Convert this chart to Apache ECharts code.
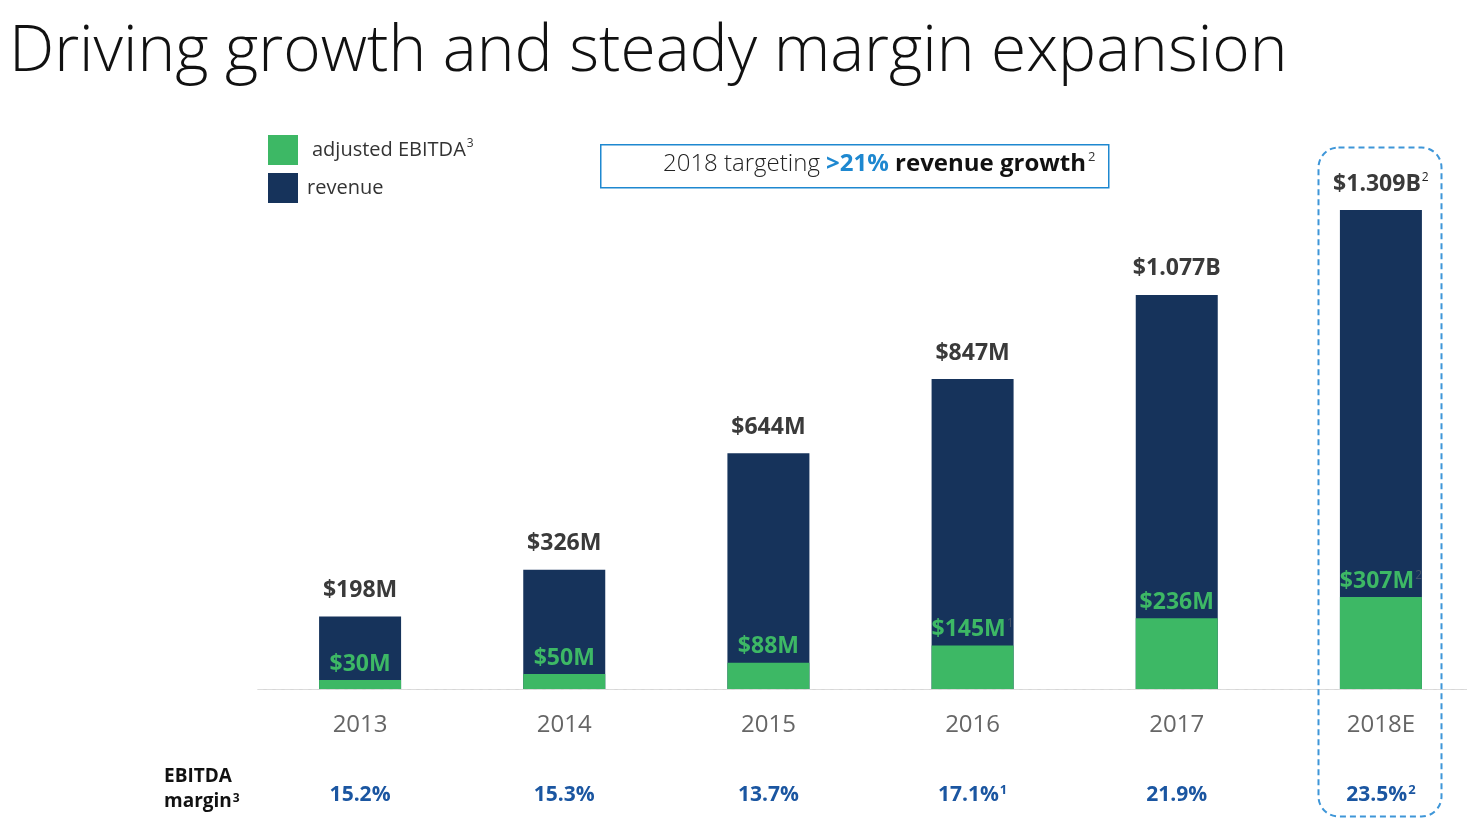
<!DOCTYPE html>
<html>
<head>
<meta charset="utf-8">
<script src="https://cdn.jsdelivr.net/npm/echarts@6/dist/echarts.min.js"></script>
<style>
html,body{margin:0;padding:0;background:#fff;}
#c{width:1467px;height:829px;}
</style>
</head>
<body>
<div id="c"></div>
<script>
// ---- data ----
const years = ['2013', '2014', '2015', '2016', '2017', '2018E'];
const revenue = [198, 326, 644, 847, 1077, 1309];        // $M
const ebitda = [30, 50, 88, 145, 236, 307];              // $M
const margin = ['15.2%', '15.3%', '13.7%', '17.1%', '21.9%', '23.5%'];
const revenueNotes = ['', '', '', '', '', '2'];
const ebitdaNotes = ['', '', '', '1', '', '2'];
const marginNotes = ['', '', '', '1', '', '2'];

const NAVY = '#16335B';
const GREEN = '#3DB865';
const FONT = '"Open Sans", "Noto Sans", sans-serif';

function money(v) {
  return v >= 1000 ? '$' + (v / 1000).toFixed(3) + 'B' : '$' + v + 'M';
}

const chart = echarts.init(document.getElementById('c'));
chart.setOption({
  backgroundColor: '#fff',
  textStyle: { fontFamily: FONT },
  title: {
    text: 'Driving growth and steady margin expansion',
    left: 4, top: 16,
    textStyle: { fontFamily: FONT, fontSize: 64, fontWeight: 300, color: '#111' }
  },
  legend: {
    orient: 'vertical',
    left: 263, top: 130,
    itemWidth: 30, itemHeight: 30, itemGap: 8,
    icon: 'rect',
    data: ['adjusted EBITDA', 'revenue'],
    formatter: function (name) {
      return name === 'adjusted EBITDA' ? '{a|adjusted EBITDA}{s|3}' : '{b|revenue}';
    },
    textStyle: {
      fontFamily: FONT, fontSize: 20, color: '#333',
      rich: {
        a: { fontSize: 20, color: '#333', padding: [0, 0, 0, 9], lineHeight: 28 },
        b: { fontSize: 20, color: '#333', padding: [0, 0, 0, 4], lineHeight: 28 },
        s: { fontSize: 12, color: '#333', padding: [0, 0, 12, 1], lineHeight: 28 }
      }
    }
  },
  grid: { left: 258, width: 1225, top: 210, bottom: 140, containLabel: false, outerBoundsMode: 'none' },
  xAxis: [
    {
      type: 'category', data: years,
      axisLine: { show: true, lineStyle: { color: '#d6d6d6', width: 1 } },
      axisTick: { show: false },
      axisLabel: { margin: 24, fontSize: 24, color: '#666', fontFamily: FONT }
    },
    {
      type: 'category', data: margin, position: 'bottom', offset: 63,
      axisLine: { show: true, lineStyle: { color: '#dcdcdc', width: 1, type: [5, 4] } },
      axisTick: { show: false },
      axisLabel: {
        margin: 30,
        formatter: function (v, i) {
          return marginNotes[i] ? '{m|' + v + '}{s|' + marginNotes[i] + '}' : '{m|' + v + '}';
        },
        rich: {
          m: { fontSize: 21, fontWeight: 'bold', color: '#1B56A1', fontFamily: FONT, lineHeight: 26 },
          s: { fontSize: 13, fontWeight: 'bold', color: '#1B56A1', fontFamily: FONT, padding: [0, 0, 10, 1], lineHeight: 26 }
        }
      }
    }
  ],
  yAxis: [
    { type: 'value', min: 0, max: Math.max.apply(null, revenue), show: false },
    { type: 'value', min: 0, max: 1600, show: false }
  ],
  series: [
    {
      name: 'revenue', type: 'bar', data: revenue, barWidth: 82,
      xAxisIndex: 0, yAxisIndex: 0,
      itemStyle: { color: NAVY },
      label: {
        show: true, position: 'top', distance: 12,
        formatter: function (p) {
          const n = revenueNotes[p.dataIndex];
          return n ? '{v|' + money(p.value) + '}{s|' + n + '}' : '{v|' + money(p.value) + '}';
        },
        rich: {
          v: { fontSize: 23, fontWeight: 'bold', color: '#3a3a3a', fontFamily: FONT, lineHeight: 28 },
          s: { fontSize: 12, color: '#222', fontFamily: FONT, padding: [0, 0, 12, 1], lineHeight: 28 }
        }
      },
      z: 2
    },
    {
      name: 'adjusted EBITDA', type: 'bar', data: ebitda, barWidth: 82, barGap: '-100%',
      xAxisIndex: 0, yAxisIndex: 1,
      itemStyle: { color: GREEN },
      label: {
        show: true, position: 'top', distance: 2,
        formatter: function (p) {
          const n = ebitdaNotes[p.dataIndex];
          return n ? '{v|' + money(p.value) + '}{s|' + n + '}' : '{v|' + money(p.value) + '}';
        },
        rich: {
          v: { fontSize: 23, fontWeight: 'bold', color: GREEN, fontFamily: FONT, lineHeight: 28 },
          s: { fontSize: 12, color: '#44546a', fontFamily: FONT, padding: [0, 0, 12, 1], lineHeight: 28 }
        }
      },
      z: 3
    }
  ],
  graphic: [
    {
      type: 'rect', left: 600, top: 144, silent: true,
      shape: { width: 508, height: 43 },
      style: { fill: '#fff', stroke: '#1E88D0', lineWidth: 1.5 }
    },
    {
      type: 'text', left: 663, top: 151, silent: true,
      style: {
        text: '{n|2018 targeting }{b|>21%}{k| revenue growth}{s|2}',
        rich: {
          n: { fontSize: 24, fontWeight: 300, fill: '#222', fontFamily: FONT, lineHeight: 30 },
          b: { fontSize: 24, fontWeight: 'bold', fill: '#1E88D0', fontFamily: FONT, lineHeight: 30 },
          k: { fontSize: 24, fontWeight: 'bold', fill: '#111', fontFamily: FONT, lineHeight: 30 },
          s: { fontSize: 13, fill: '#333', fontFamily: FONT, padding: [0, 0, 13, 2], lineHeight: 30 }
        }
      }
    },
    {
      type: 'rect', left: 1316, top: 145, silent: true, z: 10,
      shape: { width: 123, height: 669, r: 20 },
      style: { fill: 'none', stroke: '#3E96D8', lineWidth: 2, lineDash: [6, 4] }
    },
    {
      type: 'text', left: 164, top: 767, silent: true,
      style: {
        text: '{a|EBITDA}\n{a|margin}{s|3}',
        rich: {
          a: { fontSize: 19, fontWeight: 'bold', fill: '#111', fontFamily: FONT, lineHeight: 25 },
          s: { fontSize: 12, fontWeight: 'bold', fill: '#111', fontFamily: FONT, lineHeight: 25, padding: [0, 0, 6, 1] }
        }
      }
    }
  ]
});
</script>
</body>
</html>
